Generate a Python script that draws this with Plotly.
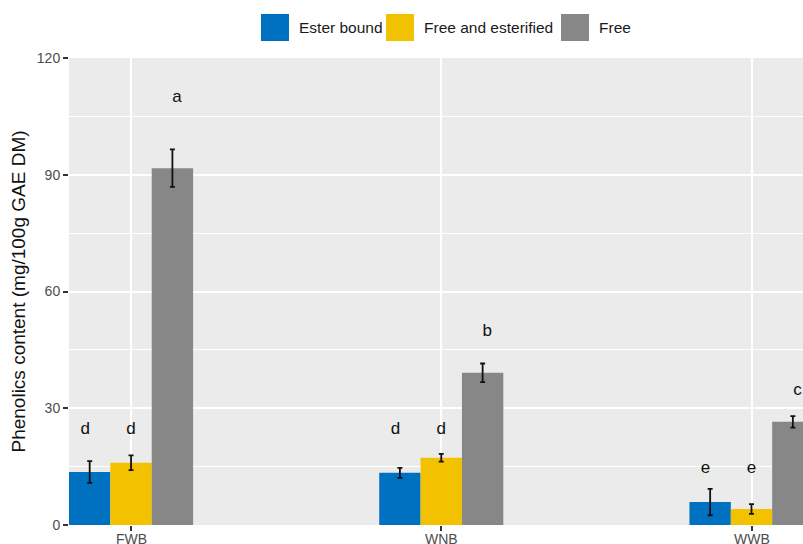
import plotly.graph_objects as go

# Sample groups and phenolic fractions
categories = ["FWB", "WNB", "WWB"]
fractions = ["Ester bound", "Free and esterified", "Free"]

# Mean phenolics content (mg/100g GAE DM) and standard deviations
ester_bound = [13.6, 13.4, 5.9]
ester_bound_sd = [2.8, 1.3, 3.4]
free_esterified = [16.0, 17.3, 4.1]
free_esterified_sd = [1.9, 1.0, 1.25]
free = [91.7, 39.1, 26.5]
free_sd = [4.8, 2.4, 1.5]

# Significance letters and the heights they are printed at
letters_ester = ["d", "d", "e"]
letters_ester_y = [24.6, 24.6, 14.4]
letters_esterified = ["d", "d", "e"]
letters_esterified_y = [24.6, 24.6, 14.4]
letters_free = ["a", "b", "c"]
letters_free_y = [109.7, 49.7, 34.5]

colors = ["#0070C0", "#F2C200", "#878787"]
means = [ester_bound, free_esterified, free]
sds = [ester_bound_sd, free_esterified_sd, free_sd]
letters = [letters_ester, letters_esterified, letters_free]
letters_y = [letters_ester_y, letters_esterified_y, letters_free_y]

W, H = 803, 544
ML, MR, MT, MB = 69, 0, 58, 19
PW, PH = W - ML - MR, H - MT - MB
FONT = "Liberation Sans, Arial, sans-serif"

fig = go.Figure()
for name, m, s, c in zip(fractions, means, sds, colors):
    fig.add_trace(go.Bar(
        name=name, x=categories, y=m, marker_color=c,
        marker_line_width=0, offsetgroup=name,
        error_y=dict(type="data", array=s, visible=True, color="#111111",
                     thickness=1.8, width=2.5),
        showlegend=False,
    ))

# letters dodged a little wider than the bars
letter_offsets = [-0.148, 0.0, 0.148]
for off, lt, ly in zip(letter_offsets, letters, letters_y):
    fig.add_trace(go.Scatter(
        x=[i + off for i in range(len(categories))], y=ly, mode="text",
        text=lt, textfont=dict(size=17, color="#111111", family=FONT),
        textposition="middle center", showlegend=False, cliponaxis=True,
        hoverinfo="skip", xaxis="x2",
    ))


def px_x(px):
    return (px - ML) / PW


def px_y(py):
    return (H - MB - py) / PH


# legend drawn at the top as keys + labels
legend_keys = [(261, 289), (386, 414), (561, 589)]
shapes, annotations = [], []
for (x0, x1), name, c in zip(legend_keys, fractions, colors):
    shapes.append(dict(type="rect", xref="paper", yref="paper",
                       x0=px_x(x0), x1=px_x(x1), y0=px_y(41), y1=px_y(14),
                       fillcolor=c, line=dict(width=0), layer="above"))
    annotations.append(dict(text=name, xref="paper", yref="paper",
                            x=px_x(x1 + 8), y=px_y(27.5), xanchor="left",
                            yanchor="middle", showarrow=False,
                            font=dict(size=15.5, color="#1a1a1a", family=FONT)))

# category labels sit just under the tick marks
for cat in categories:
    annotations.append(dict(text=cat, xref="x", yref="paper", x=cat,
                            y=px_y(530), xanchor="center", yanchor="top",
                            showarrow=False, borderpad=0,
                            font=dict(size=14, color="#4D4D4D", family=FONT)))

xr = [-0.2, 2.166]
fig.update_layout(
    width=W, height=H,
    margin=dict(l=ML, r=MR, t=MT, b=MB, pad=0, autoexpand=False),
    paper_bgcolor="white", plot_bgcolor="#EBEBEB",
    barmode="group", bargap=0.6, bargroupgap=0,
    font=dict(family=FONT, color="#4D4D4D"),
    shapes=shapes, annotations=annotations,
    xaxis=dict(type="category", range=xr, showgrid=True, gridcolor="white",
               gridwidth=1.6, ticks="outside", ticklen=5, tickwidth=1.5,
               tickcolor="#333333", showticklabels=False,
               zeroline=False, showline=False, automargin=False),
    xaxis2=dict(range=xr, overlaying="x", visible=False, automargin=False),
    yaxis=dict(range=[0, 120], tickvals=[0, 30, 60, 90, 120], showgrid=True,
               gridcolor="white", gridwidth=1.6, ticks="outside", ticklen=5,
               tickwidth=1.5, tickcolor="#333333", automargin=False,
               tickfont=dict(size=14, color="#4D4D4D"), zeroline=False,
               minor=dict(tickvals=[15, 45, 75, 105], showgrid=True,
                          gridcolor="white", gridwidth=0.8, ticks=""),
               title=dict(text="Phenolics content (mg/100g GAE DM)",
                          font=dict(size=19, color="#111111"), standoff=6)),
)

fig.write_html("out.html")
